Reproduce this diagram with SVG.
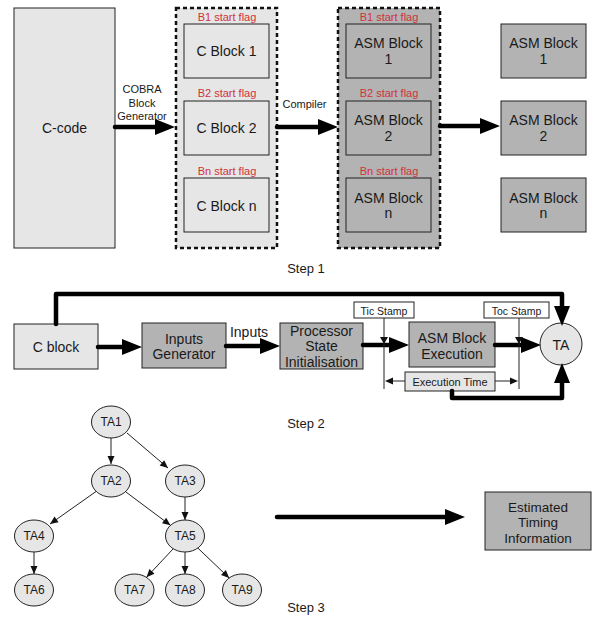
<svg xmlns="http://www.w3.org/2000/svg" width="593" height="617" viewBox="0 0 593 617">
<style>
text{font-family:"Liberation Sans",Arial,sans-serif;fill:#1a1a1a;text-anchor:middle;dominant-baseline:central}
.lt{fill:#e6e6e6;stroke:#222;stroke-width:1}
.dk{fill:#b3b3b3;stroke:#222;stroke-width:1}
.wh{fill:#fff;stroke:#222;stroke-width:1}
.dash{stroke:#111;stroke-width:2.5;stroke-dasharray:4 3}
.t14{font-size:14px}
.t13{font-size:13px}
.t11{font-size:11px}
.t12{font-size:12px}
.red{font-size:11px;fill:#d0323a}
.thick{fill:none;stroke:#000;stroke-width:4.5;stroke-linecap:round;stroke-linejoin:round;marker-end:url(#big)}
.thin{fill:none;stroke:#222;stroke-width:1;marker-end:url(#sm)}
.plain{fill:none;stroke:#222;stroke-width:1}
.exa{fill:none;stroke:#222;stroke-width:1;marker-end:url(#sm0)}
.ell{fill:#e6e6e6;stroke:#222;stroke-width:1}
</style>
<defs>
<marker id="big" markerUnits="userSpaceOnUse" markerWidth="20" markerHeight="16" refX="0" refY="8" orient="auto" overflow="visible"><path d="M0,0 L20,8 L0,16 Z" fill="#000"/></marker>
<marker id="sm" markerUnits="userSpaceOnUse" markerWidth="8" markerHeight="8" refX="8" refY="3.5" orient="auto" overflow="visible"><path d="M0,0 L8,3.5 L0,7 Z" fill="#111"/></marker>
<marker id="sm0" markerUnits="userSpaceOnUse" markerWidth="8" markerHeight="8" refX="0" refY="3.5" orient="auto" overflow="visible"><path d="M0,0 L8,3.5 L0,7 Z" fill="#111"/></marker>
</defs>

<!-- Step 1 -->
<g id="ccode"><rect class="lt" x="14" y="8" width="101" height="240"/><text class="t14" x="64.5" y="128">C-code</text></g>
<g id="cgroup">
<rect class="dash" x="176" y="8" width="101" height="240" fill="#e6e6e6"/>
<text class="red" x="227" y="17">B1 start flag</text>
<text class="red" x="227" y="93">B2 start flag</text>
<text class="red" x="227" y="171">Bn start flag</text>
</g>
<g id="cblock1"><rect class="lt" x="184" y="24" width="85" height="54"/><text class="t14" x="226.5" y="51">C Block 1</text></g>
<g id="cblock2"><rect class="lt" x="184" y="101" width="85" height="54"/><text class="t14" x="226.5" y="128">C Block 2</text></g>
<g id="cblockn"><rect class="lt" x="184" y="178" width="85" height="54"/><text class="t14" x="226.5" y="206">C Block n</text></g>

<g id="asmgroup">
<rect class="dash" x="338" y="8" width="102" height="240" fill="#b3b3b3"/>
<text class="red" x="389" y="17">B1 start flag</text>
<text class="red" x="389" y="93">B2 start flag</text>
<text class="red" x="389" y="171">Bn start flag</text>
</g>
<g id="asm1"><rect class="dk" x="346" y="24" width="85" height="54"/><text class="t14" x="388.5" y="43">ASM Block</text><text class="t14" x="388.5" y="59">1</text></g>
<g id="asm2"><rect class="dk" x="346" y="101" width="85" height="54"/><text class="t14" x="388.5" y="120">ASM Block</text><text class="t14" x="388.5" y="136">2</text></g>
<g id="asmn"><rect class="dk" x="346" y="178" width="85" height="54"/><text class="t14" x="388.5" y="198">ASM Block</text><text class="t14" x="388.5" y="213">n</text></g>

<g id="rasm1"><rect class="dk" x="501" y="24" width="85" height="54"/><text class="t14" x="543.5" y="43">ASM Block</text><text class="t14" x="543.5" y="59">1</text></g>
<g id="rasm2"><rect class="dk" x="501" y="101" width="85" height="54"/><text class="t14" x="543.5" y="120">ASM Block</text><text class="t14" x="543.5" y="136">2</text></g>
<g id="rasmn"><rect class="dk" x="501" y="178" width="85" height="54"/><text class="t14" x="543.5" y="198">ASM Block</text><text class="t14" x="543.5" y="213">n</text></g>

<g id="labels">
<text class="t11" x="142" y="89">COBRA</text>
<text class="t11" x="142" y="103">Block</text>
<text class="t11" x="142" y="116">Generator</text>
<text class="t11" x="304.5" y="104">Compiler</text>
<text class="t13" x="306" y="268">Step 1</text>
<text class="t14" x="249" y="332">Inputs</text>
<text class="t13" x="306" y="423">Step 2</text>
<text class="t13" x="306" y="607">Step 3</text>
</g>

<!-- Step 2 -->
<g id="cblock"><rect class="lt" x="14" y="324" width="84" height="45"/><text class="t14" x="56" y="347">C block</text></g>
<g id="inputsgen"><rect class="dk" x="142" y="323" width="84" height="45"/><text class="t14" x="184" y="339">Inputs</text><text class="t14" x="184" y="354">Generator</text></g>
<g id="procinit"><rect class="dk" x="280" y="323" width="83" height="46"/><text class="t14" x="321.5" y="331">Processor</text><text class="t14" x="321.5" y="346">State</text><text class="t14" x="321.5" y="362">Initialisation</text></g>
<g id="asmexec"><rect class="dk" x="409" y="322" width="86" height="45"/><text class="t14" x="452" y="338">ASM Block</text><text class="t14" x="452" y="354">Execution</text></g>
<g id="ta"><circle class="ell" cx="561" cy="344" r="21"/><text class="t14" x="561" y="345">TA</text></g>
<g id="tic"><rect class="wh" x="354" y="302" width="60" height="16"/><text style="font-size:10.5px" x="384" y="311">Tic Stamp</text></g>
<g id="toc"><rect class="wh" x="484" y="302" width="65" height="16"/><text style="font-size:10.5px" x="516.5" y="311">Toc Stamp</text></g>
<g id="exectime"><rect class="lt" x="405" y="372" width="90" height="19"/><text class="t11" x="450" y="382">Execution Time</text></g>

<!-- Step 3 -->
<g id="ta1"><ellipse class="ell" cx="111" cy="422" rx="19.5" ry="16"/><text class="t12" x="111" y="422">TA1</text></g>
<g id="ta2"><ellipse class="ell" cx="111" cy="481" rx="19.5" ry="16"/><text class="t12" x="111" y="481">TA2</text></g>
<g id="ta3"><ellipse class="ell" cx="185" cy="481" rx="19.5" ry="16"/><text class="t12" x="185" y="481">TA3</text></g>
<g id="ta4"><ellipse class="ell" cx="34" cy="536" rx="19.5" ry="16"/><text class="t12" x="34" y="536">TA4</text></g>
<g id="ta5"><ellipse class="ell" cx="185" cy="536" rx="19.5" ry="16"/><text class="t12" x="185" y="536">TA5</text></g>
<g id="ta6"><ellipse class="ell" cx="34" cy="590" rx="19.5" ry="16"/><text class="t12" x="34" y="590">TA6</text></g>
<g id="ta7"><ellipse class="ell" cx="134.5" cy="590" rx="19.5" ry="16"/><text class="t12" x="134.5" y="590">TA7</text></g>
<g id="ta8"><ellipse class="ell" cx="185" cy="590" rx="19.5" ry="16"/><text class="t12" x="185" y="590">TA8</text></g>
<g id="ta9"><ellipse class="ell" cx="242" cy="590" rx="19.5" ry="16"/><text class="t12" x="242" y="590">TA9</text></g>
<g id="estimated"><rect class="dk" x="485" y="492" width="106" height="58"/><text style="font-size:13.5px" x="538" y="507">Estimated</text><text style="font-size:13.5px" x="538" y="522">Timing</text><text style="font-size:13.5px" x="538" y="538">Information</text></g>

<g id="connectors">
<path class="thick" d="M115,127 H155"/>
<path class="thick" d="M277,127 H318"/>
<path class="thick" d="M440,126 H480"/>

<path class="thick" d="M56,324 V294 H562 V306"/>
<path class="thick" d="M98,347 H122"/>
<path class="thick" d="M226,346 H260"/>
<path class="thick" d="M363,345 H389"/>
<path class="thick" d="M495,345 H521"/>
<path class="thick" d="M452,391 V398 H562 V383"/>

<path class="plain" d="M384,318 V389"/>
<path class="plain" d="M519,318 V389"/>
<polygon points="380,337 388,337 384,344" fill="#111"/>
<polygon points="515,337 523,337 519,344" fill="#111"/>
<path class="exa" d="M405,381 H393"/>
<path class="exa" d="M495,381 H510"/>

<path class="thin" d="M111,438 V464"/>
<path class="thin" d="M127,433 L168,468"/>
<path class="thin" d="M96,491.5 L50,524"/>
<path class="thin" d="M125.5,491.7 L170.5,525.3"/>
<path class="thin" d="M185,497 V520"/>
<path class="thin" d="M34,552 V574"/>
<path class="thin" d="M173,549 L146.5,577.3"/>
<path class="thin" d="M185,552 V574"/>
<path class="thin" d="M197.8,548 L229.2,578"/>

<path class="thick" d="M277,517 H445"/>
</g>
</svg>
